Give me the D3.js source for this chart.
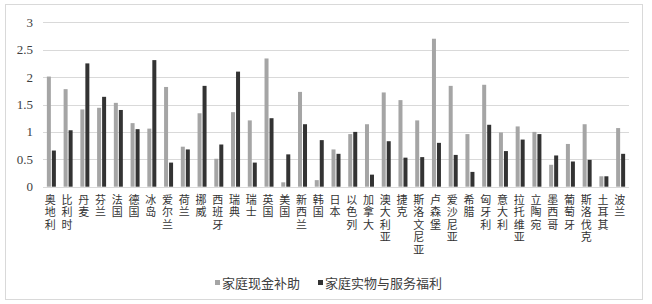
<!DOCTYPE html>
<html><head><meta charset="utf-8">
<script src="https://cdn.jsdelivr.net/npm/d3@7"></script>
<style>body{margin:0;background:#fff}svg{display:block}</style>
</head><body>
<svg id="c" width="652" height="304"></svg>
<script>
const categories = ["奥地利","比利时","丹麦","芬兰","法国","德国","冰岛","爱尔兰","荷兰","挪威","西班牙","瑞典","瑞士","英国","美国","新西兰","韩国","日本","以色列","加拿大","澳大利亚","捷克","斯洛文尼亚","卢森堡","爱沙尼亚","希腊","匈牙利","意大利","拉托维亚","立陶宛","墨西哥","葡萄牙","斯洛伐克","土耳其","波兰"];
const cashValues = [2.01,1.78,1.41,1.44,1.53,1.16,1.06,1.82,0.73,1.34,0.51,1.36,1.21,2.34,0.08,1.73,0.12,0.68,0.96,1.14,1.72,1.58,1.21,2.70,1.84,0.96,1.86,0.99,1.10,1.00,0.40,0.78,1.14,0.19,1.07];
const kindValues = [0.66,1.03,2.25,1.64,1.40,1.05,2.31,0.44,0.68,1.84,0.77,2.10,0.44,1.25,0.59,1.14,0.85,0.60,1.00,0.22,0.83,0.53,0.54,0.80,0.58,0.27,1.13,0.65,0.86,0.96,0.57,0.46,0.49,0.19,0.60];
const seriesNames = ["家庭现金补助","家庭实物与服务福利"];
const yTicks = [0,0.5,1,1.5,2,2.5,3];
const colors = ["#a5a5a5","#333333"];

(function(){
const svg = d3.select("#c");
svg.append("rect").attr("x",5.5).attr("y",4.5).attr("width",637).attr("height",295)
  .attr("fill","#fff").attr("stroke","#d9d9d9").attr("stroke-width",1);

const pl = 43, pr = 629, pt = 22.3, pb = 186.7;
const x0 = d3.scaleBand().domain(categories).range([pl, pr]).paddingInner(0).paddingOuter(0);
const x1 = d3.scaleBand().domain([0,1]).range([0,9]).paddingInner(0.2).paddingOuter(0);
const y = d3.scaleLinear().domain([0,3]).range([pb, pt]);

const g = svg.append("g");
g.selectAll("line.grid").data(yTicks).enter().append("line")
  .attr("x1", pl).attr("x2", pr)
  .attr("y1", d => Math.round(y(d)) + 0.5).attr("y2", d => Math.round(y(d)) + 0.5)
  .attr("stroke", "#d9d9d9").attr("stroke-width", 1);

g.selectAll("text.yt").data(yTicks).enter().append("text")
  .attr("x", 33).attr("y", d => y(d)).attr("dy","0.35em")
  .attr("text-anchor","end").attr("font-family","Liberation Serif, serif").attr("font-size",13)
  .attr("fill","#404040").text(d => d);

const off = (x0.bandwidth() - 9) / 2;
[cashValues, kindValues].forEach((vals, si) => {
  g.selectAll("rect.s"+si).data(categories).enter().append("rect")
    .attr("class","s"+si)
    .attr("x", (c) => x0(c) + off + x1(si))
    .attr("width", x1.bandwidth())
    .attr("y", (c,i) => y(vals[i]))
    .attr("height", (c,i) => y(0) - y(vals[i]))
    .attr("fill", colors[si]);
});

g.selectAll("text.cat").data(categories).enter().append("text")
  .attr("class","cat")
  .attr("x", c => x0(c) + x0.bandwidth()/2 - 1)
  .attr("y", 194)
  .style("writing-mode","vertical-rl")
  .style("text-orientation","upright")
  .style("letter-spacing","1.5px")
  .attr("font-family","Noto Sans CJK SC, sans-serif").attr("font-size",11)
  .attr("fill","#333")
  .text(c => c);

const leg = [{x:215, name: seriesNames[0], color: colors[0]}, {x:318, name: seriesNames[1], color: colors[1]}];
leg.forEach(l => {
  svg.append("rect").attr("x", l.x).attr("y", 280).attr("width", 5).attr("height", 5).attr("fill", l.color);
  svg.append("text").attr("x", l.x + 7).attr("y", 283).attr("dy","0.35em")
    .attr("font-family","Noto Sans CJK SC, sans-serif").attr("font-size",13)
    .attr("fill","#404040").text(l.name);
});
})();
</script>
</body></html>
